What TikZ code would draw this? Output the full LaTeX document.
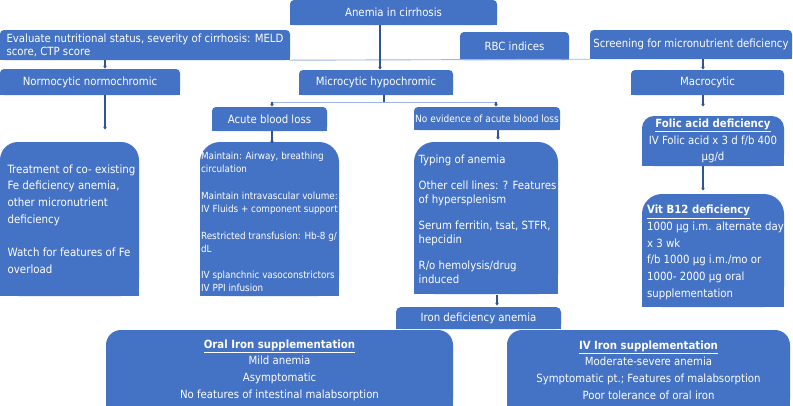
\documentclass[tikz,border=0pt]{standalone}
\usepackage{fontspec}
\setmainfont{DejaVu Sans Condensed}[BoldFont={DejaVu Sans Condensed Bold}]
\usetikzlibrary{arrows.meta,backgrounds}
\definecolor{boxblue}{HTML}{4472C4}
\definecolor{arrblue}{HTML}{2F5597}
\definecolor{lineblue}{HTML}{9DB5E0}
\tikzset{
  boxtext/.style={text=white, inner sep=0pt, font=\fontsize{11.3}{13.3}\selectfont, align=center},
  arr/.style={draw=arrblue, line width=1.2pt, -{Latex[length=3pt,width=4pt]}},
  darkline/.style={draw=arrblue, line width=1.2pt},
  lightline/.style={draw=lineblue, line width=0.9pt},
}
% #1 name, #2 x1, #3 y1, #4 x2, #5 y2, #6 corner radius, #7 node options, #8 text
\newcommand\mybox[8]{%
  \pgfmathsetmacro\bxw{#4-#2}\pgfmathsetmacro\bxh{#5-#3}%
  \pgfmathsetmacro\bxcx{(#2+#4)/2}\pgfmathsetmacro\bxcy{(#3+#5)/2}%
  \pgfmathsetmacro\bxmy{(#3+#5)/2}%
  \begin{scope}[on background layer]
    \fill[boxblue, rounded corners=#6pt] (#2,#3) rectangle (#4,#5);
    \fill[boxblue] (#2,\bxmy) rectangle (#4,#5);
  \end{scope}
  \node[boxtext, minimum width=\bxw pt, minimum height=\bxh pt, #7] (#1) at (\bxcx,\bxcy) {#8};
}
\begin{document}
\begin{tikzpicture}[x=1pt,y=-1pt]
\useasboundingbox (0,0) rectangle (793,405);
\begin{scope}[on background layer]
\fill[white] (0,0) rectangle (793,405);
\end{scope}
\coordinate (splitL) at (272,102);
\coordinate (splitR) at (496,102);
\coordinate (split) at (384,102);

\mybox{anemia}{290}{0}{497}{25}{4}{}{Anemia in cirrhosis}
\mybox{eval}{0}{30}{290}{60}{4}{align=left, font=\fontsize{11.3}{13}\selectfont}{Evaluate nutritional status, severity of cirrhosis: MELD\\score, CTP score}
\mybox{rbc}{460}{32}{569}{60}{4}{}{RBC indices}
\mybox{screen}{590}{30}{792}{59}{4}{}{Screening for micronutrient deficiency}
\mybox{normo}{0}{69}{180}{95}{4}{}{Normocytic normochromic}
\mybox{micro}{299}{70}{453}{95}{4}{}{Microcytic hypochromic}
\mybox{macro}{631}{70}{784}{95}{4}{}{Macrocytic}
\mybox{acute}{212}{107}{327}{131}{4}{}{Acute blood loss}
\mybox{noev}{414}{107}{560}{130}{4}{font=\fontsize{10}{12}\selectfont}{No evidence of acute blood loss}
\mybox{treat}{0}{142}{139}{296}{18}{align=left, xshift=2pt, font=\fontsize{11.4}{16.7}\selectfont}{Treatment of co- existing\\Fe deficiency anemia,\\other micronutrient\\deficiency\\[16.7pt]Watch for features of Fe\\overload}
\mybox{acutebox}{200}{142}{339}{296}{20}{align=left, yshift=-3pt, font=\fontsize{9.8}{13.1}\selectfont}{Maintain: Airway, breathing\\circulation\\[13.6pt]Maintain intravascular volume:\\IV Fluids + component support\\[13.6pt]Restricted transfusion: Hb-8 g/\\dL\\[13.6pt]IV splanchnic vasoconstrictors\\IV PPI infusion}
\mybox{typing}{414}{142}{558}{294}{20}{align=left, xshift=1.5pt, yshift=-1pt, font=\fontsize{11.3}{13.3}\selectfont}{Typing of anemia\\[13.3pt]Other cell lines: ? Features\\of hypersplenism\\[13.3pt]Serum ferritin, tsat, STFR,\\hepcidin\\[13.3pt]R/o hemolysis/drug\\induced}
\mybox{folic}{642}{116}{784}{166}{12}{font=\fontsize{11.3}{16.7}\selectfont}{\underline{\textbf{Folic acid deficiency}}\\IV Folic acid x 3 d f/b 400\\µg/d}
\mybox{vit}{642}{194}{784}{307}{20}{align=left, xshift=2.5pt, yshift=-2pt, font=\fontsize{11.3}{16.7}\selectfont}{\underline{\textbf{Vit B12 deficiency}}\\1000 µg i.m. alternate day\\x 3 wk\\f/b 1000 µg i.m./mo or\\1000- 2000 µg oral\\supplementation}
\mybox{iron}{396}{307}{561}{329}{5}{}{Iron deficiency anemia}
\mybox{oral}{106}{330}{453}{414}{15}{yshift=2pt, font=\fontsize{11.3}{16.7}\selectfont}{\underline{\textbf{Oral Iron supplementation}}\\Mild anemia\\Asymptomatic\\No features of intestinal malabsorption}
\mybox{iv}{507}{330}{790}{414}{15}{yshift=2pt, font=\fontsize{11.3}{16.7}\selectfont}{\underline{\textbf{IV Iron supplementation}}\\Moderate-severe anemia\\Symptomatic pt.; Features of malabsorption\\Poor tolerance of oral iron}

\coordinate (c380) at (380,0);
\coordinate (c105) at (105,0);
\coordinate (c703) at (703,0);
\coordinate (c272) at (272,0);
\coordinate (c498) at (498,0);
\coordinate (c497) at (497,0);

\draw[lightline] (eval.south east) -- (screen.south west);
\draw[lightline] (splitL) -- (splitR);

\draw[arr] (anemia.south -| c380) -- (micro.north -| c380);
\draw[arr] (eval.south -| c105) -- (normo.north -| c105);
\draw[arr] (screen.south -| c703) -- (macro.north -| c703);
\draw[arr, shorten >=12pt] (normo.south -| c105) -- (treat.north -| c105);
\draw[darkline] (micro.south -| split) -- (split);
\draw[arr] (splitL) -- (acute.north -| splitL);
\draw[arr] (splitR) -- (noev.north -| splitR);
\draw[arr, shorten >=1pt] (acute.south -| c272) -- (acutebox.north -| c272);
\draw[arr, shorten >=3pt] (noev.south -| c498) -- (typing.north -| c498);
\draw[arr, shorten >=1pt] (typing.south -| c497) -- (iron.north -| c497);
\draw[arr, shorten >=9pt] (macro.south -| c703) -- (folic.north -| c703);
\draw[arr, shorten >=5pt] (folic.south -| c703) -- (vit.north -| c703);
\end{tikzpicture}
\end{document}
